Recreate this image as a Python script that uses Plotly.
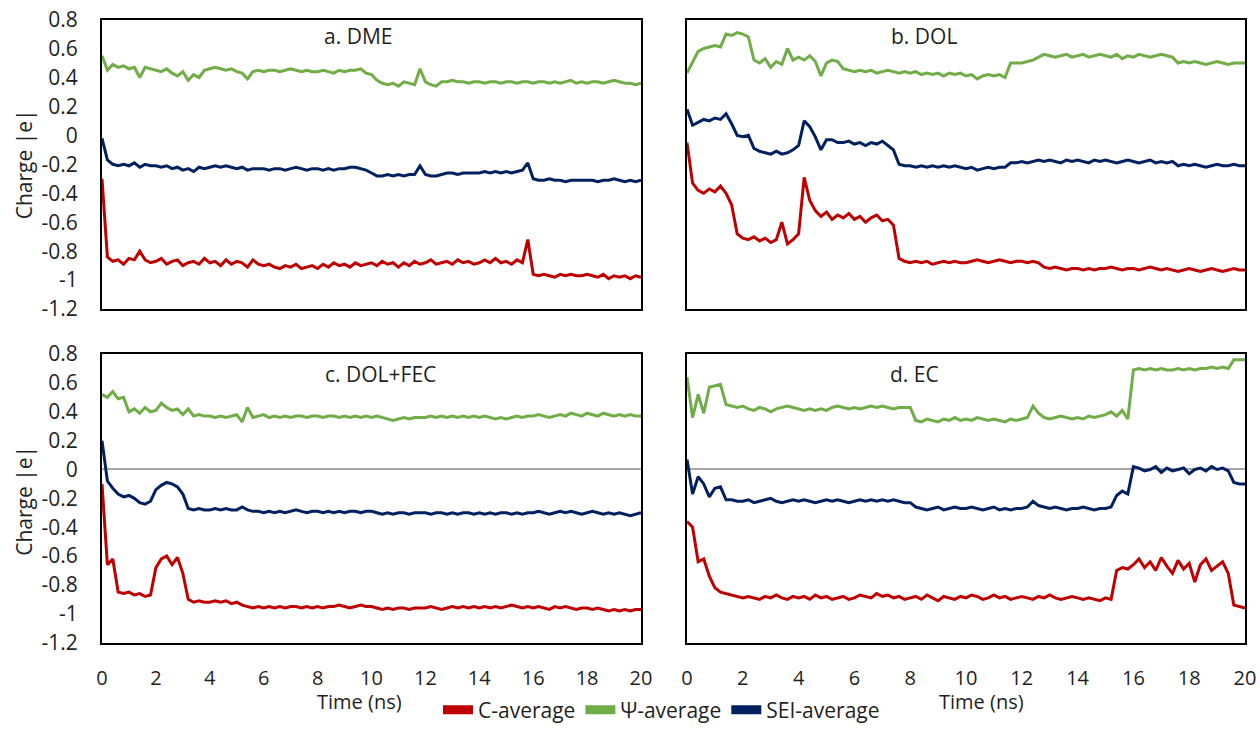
import plotly.graph_objects as go

# ---------------- data ----------------
time_ns = [round(i * 0.2, 1) for i in range(101)]
x_ticks = [0, 2, 4, 6, 8, 10, 12, 14, 16, 18, 20]
y_tick_vals = [0.8, 0.6, 0.4, 0.2, 0, -0.2, -0.4, -0.6, -0.8, -1.0, -1.2]
y_tick_text = ["0.8", "0.6", "0.4", "0.2", "0", "-0.2", "-0.4", "-0.6", "-0.8", "-1", "-1.2"]
panel_titles = ["a. DME", "b. DOL", "c. DOL+FEC", "d. EC"]
series_names = ["C-average", "\u03a8-average", "SEI-average"]
series_colors = ["#C00000", "#70AD47", "#002060"]

# a. DME
dme_c = [-0.30, -0.84, -0.87, -0.86, -0.89, -0.85, -0.86, -0.80, -0.86, -0.88,
         -0.87, -0.85, -0.89, -0.87, -0.86, -0.90, -0.88, -0.87, -0.89, -0.85,
         -0.88, -0.87, -0.90, -0.86, -0.89, -0.87, -0.88, -0.91, -0.86, -0.89,
         -0.90, -0.89, -0.91, -0.92, -0.90, -0.91, -0.89, -0.92, -0.91, -0.90,
         -0.92, -0.89, -0.91, -0.88, -0.90, -0.89, -0.91, -0.88, -0.90, -0.89,
         -0.88, -0.90, -0.87, -0.89, -0.88, -0.91, -0.88, -0.90, -0.87, -0.89,
         -0.88, -0.86, -0.89, -0.88, -0.87, -0.89, -0.86, -0.88, -0.87, -0.89,
         -0.88, -0.86, -0.88, -0.85, -0.88, -0.87, -0.89, -0.86, -0.88, -0.72,
         -0.96, -0.97, -0.96, -0.97, -0.98, -0.96, -0.97, -0.96, -0.97, -0.97,
         -0.96, -0.97, -0.98, -0.96, -0.99, -0.97, -0.98, -0.97, -0.99, -0.97,
         -0.98]
dme_psi = [0.55, 0.45, 0.49, 0.47, 0.48, 0.46, 0.47, 0.40, 0.47, 0.46,
           0.45, 0.44, 0.46, 0.43, 0.41, 0.44, 0.38, 0.42, 0.40, 0.45,
           0.46, 0.47, 0.46, 0.45, 0.46, 0.44, 0.43, 0.39, 0.44, 0.45,
           0.44, 0.45, 0.45, 0.44, 0.45, 0.46, 0.45, 0.44, 0.45, 0.44,
           0.44, 0.45, 0.44, 0.43, 0.45, 0.44, 0.45, 0.45, 0.46, 0.43,
           0.42, 0.38, 0.36, 0.35, 0.36, 0.34, 0.37, 0.36, 0.35, 0.46,
           0.37, 0.35, 0.34, 0.37, 0.37, 0.38, 0.37, 0.37, 0.36, 0.37,
           0.37, 0.36, 0.37, 0.37, 0.36, 0.37, 0.37, 0.36, 0.37, 0.37,
           0.36, 0.37, 0.37, 0.36, 0.37, 0.36, 0.37, 0.38, 0.36, 0.37,
           0.36, 0.37, 0.37, 0.36, 0.37, 0.38, 0.37, 0.36, 0.36, 0.35,
           0.36]
dme_sei = [-0.02, -0.17, -0.20, -0.21, -0.20, -0.21, -0.19, -0.22, -0.20, -0.21,
           -0.21, -0.22, -0.21, -0.23, -0.22, -0.24, -0.23, -0.25, -0.22, -0.23,
           -0.22, -0.21, -0.22, -0.21, -0.22, -0.23, -0.22, -0.24, -0.23, -0.23,
           -0.23, -0.24, -0.23, -0.23, -0.24, -0.23, -0.22, -0.23, -0.24, -0.23,
           -0.23, -0.24, -0.23, -0.24, -0.23, -0.23, -0.22, -0.22, -0.23, -0.24,
           -0.26, -0.28, -0.28, -0.27, -0.28, -0.27, -0.28, -0.27, -0.27, -0.21,
           -0.27, -0.28, -0.28, -0.27, -0.26, -0.26, -0.27, -0.26, -0.26, -0.26,
           -0.26, -0.25, -0.26, -0.25, -0.26, -0.25, -0.26, -0.25, -0.24, -0.19,
           -0.30, -0.31, -0.31, -0.30, -0.31, -0.31, -0.32, -0.31, -0.31, -0.31,
           -0.31, -0.31, -0.32, -0.31, -0.31, -0.30, -0.31, -0.32, -0.31, -0.32,
           -0.31]

# b. DOL
dol_c = [-0.05, -0.33, -0.38, -0.40, -0.37, -0.39, -0.35, -0.40, -0.48, -0.68,
         -0.71, -0.72, -0.70, -0.73, -0.71, -0.74, -0.72, -0.60, -0.75, -0.72,
         -0.68, -0.29, -0.45, -0.52, -0.56, -0.53, -0.58, -0.55, -0.57, -0.54,
         -0.58, -0.56, -0.60, -0.57, -0.55, -0.59, -0.58, -0.62, -0.85, -0.87,
         -0.88, -0.87, -0.88, -0.87, -0.89, -0.88, -0.87, -0.88, -0.87, -0.88,
         -0.88, -0.87, -0.86, -0.87, -0.88, -0.87, -0.86, -0.87, -0.88, -0.87,
         -0.87, -0.88, -0.87, -0.88, -0.91, -0.92, -0.91, -0.92, -0.93, -0.92,
         -0.92, -0.93, -0.92, -0.93, -0.92, -0.92, -0.91, -0.92, -0.93, -0.92,
         -0.92, -0.93, -0.92, -0.91, -0.92, -0.93, -0.92, -0.93, -0.94, -0.93,
         -0.92, -0.93, -0.94, -0.93, -0.92, -0.93, -0.94, -0.93, -0.92, -0.93,
         -0.93]
dol_psi = [0.43, 0.50, 0.58, 0.60, 0.61, 0.62, 0.61, 0.70, 0.69, 0.71,
           0.70, 0.68, 0.52, 0.50, 0.53, 0.47, 0.51, 0.49, 0.60, 0.52,
           0.54, 0.52, 0.55, 0.51, 0.41, 0.50, 0.52, 0.51, 0.46, 0.45,
           0.44, 0.45, 0.44, 0.45, 0.43, 0.44, 0.45, 0.44, 0.43, 0.44,
           0.43, 0.44, 0.42, 0.43, 0.42, 0.43, 0.41, 0.43, 0.42, 0.43,
           0.41, 0.42, 0.39, 0.41, 0.42, 0.41, 0.42, 0.40, 0.50, 0.50,
           0.50, 0.51, 0.52, 0.54, 0.56, 0.55, 0.54, 0.55, 0.56, 0.54,
           0.55, 0.56, 0.54, 0.55, 0.56, 0.55, 0.54, 0.56, 0.53, 0.55,
           0.54, 0.56, 0.55, 0.54, 0.55, 0.56, 0.55, 0.54, 0.50, 0.51,
           0.50, 0.51, 0.50, 0.49, 0.50, 0.51, 0.50, 0.49, 0.50, 0.50,
           0.50]
dol_sei = [0.18, 0.07, 0.09, 0.11, 0.10, 0.12, 0.11, 0.15, 0.08, 0.00,
           -0.01, 0.00, -0.09, -0.11, -0.12, -0.13, -0.11, -0.13, -0.12, -0.10,
           -0.07, 0.10, 0.06, -0.01, -0.10, -0.03, -0.03, -0.05, -0.05, -0.04,
           -0.06, -0.05, -0.07, -0.05, -0.06, -0.04, -0.07, -0.10, -0.20, -0.21,
           -0.21, -0.22, -0.21, -0.22, -0.21, -0.22, -0.21, -0.22, -0.21, -0.22,
           -0.23, -0.22, -0.24, -0.23, -0.22, -0.23, -0.22, -0.22, -0.19, -0.19,
           -0.18, -0.19, -0.18, -0.17, -0.18, -0.17, -0.18, -0.19, -0.17, -0.18,
           -0.17, -0.18, -0.19, -0.17, -0.18, -0.17, -0.18, -0.19, -0.18, -0.17,
           -0.18, -0.19, -0.18, -0.17, -0.19, -0.18, -0.19, -0.18, -0.21, -0.20,
           -0.21, -0.20, -0.21, -0.22, -0.21, -0.20, -0.21, -0.21, -0.20, -0.21,
           -0.21]

# c. DOL+FEC
fec_c = [-0.10, -0.66, -0.62, -0.85, -0.86, -0.85, -0.87, -0.86, -0.88, -0.87,
         -0.68, -0.62, -0.60, -0.66, -0.61, -0.72, -0.90, -0.92, -0.91, -0.92,
         -0.92, -0.91, -0.92, -0.91, -0.93, -0.92, -0.94, -0.95, -0.96, -0.95,
         -0.96, -0.95, -0.96, -0.95, -0.96, -0.95, -0.95, -0.96, -0.95, -0.96,
         -0.95, -0.96, -0.95, -0.95, -0.94, -0.95, -0.96, -0.95, -0.94, -0.95,
         -0.95, -0.96, -0.97, -0.96, -0.97, -0.96, -0.96, -0.97, -0.96, -0.96,
         -0.96, -0.95, -0.96, -0.97, -0.96, -0.95, -0.96, -0.95, -0.96, -0.95,
         -0.96, -0.95, -0.96, -0.95, -0.96, -0.95, -0.94, -0.95, -0.96, -0.95,
         -0.96, -0.95, -0.96, -0.97, -0.95, -0.96, -0.95, -0.96, -0.97, -0.96,
         -0.96, -0.97, -0.96, -0.97, -0.98, -0.97, -0.98, -0.97, -0.98, -0.97,
         -0.97]
fec_psi = [0.52, 0.50, 0.54, 0.49, 0.50, 0.40, 0.42, 0.39, 0.43, 0.40,
           0.41, 0.46, 0.43, 0.41, 0.42, 0.38, 0.42, 0.37, 0.38, 0.37,
           0.37, 0.36, 0.37, 0.36, 0.37, 0.38, 0.33, 0.43, 0.36, 0.37,
           0.38, 0.36, 0.37, 0.36, 0.37, 0.36, 0.37, 0.37, 0.36, 0.37,
           0.37, 0.36, 0.37, 0.37, 0.36, 0.37, 0.36, 0.37, 0.36, 0.37,
           0.36, 0.37, 0.36, 0.35, 0.34, 0.35, 0.36, 0.35, 0.36, 0.36,
           0.36, 0.37, 0.36, 0.37, 0.36, 0.37, 0.36, 0.37, 0.36, 0.37,
           0.36, 0.37, 0.36, 0.35, 0.36, 0.35, 0.36, 0.37, 0.36, 0.37,
           0.37, 0.38, 0.37, 0.36, 0.37, 0.38, 0.37, 0.39, 0.38, 0.37,
           0.39, 0.38, 0.37, 0.39, 0.38, 0.37, 0.38, 0.37, 0.38, 0.37,
           0.37]
fec_sei = [0.20, -0.08, -0.13, -0.17, -0.19, -0.18, -0.20, -0.23, -0.24, -0.22,
           -0.14, -0.11, -0.09, -0.10, -0.12, -0.17, -0.27, -0.28, -0.27, -0.28,
           -0.28, -0.27, -0.28, -0.27, -0.28, -0.28, -0.26, -0.28, -0.29, -0.29,
           -0.30, -0.29, -0.30, -0.29, -0.30, -0.29, -0.28, -0.29, -0.30, -0.29,
           -0.29, -0.30, -0.29, -0.30, -0.29, -0.30, -0.29, -0.29, -0.30, -0.29,
           -0.29, -0.30, -0.31, -0.30, -0.31, -0.30, -0.30, -0.31, -0.30, -0.30,
           -0.30, -0.31, -0.30, -0.30, -0.31, -0.30, -0.31, -0.30, -0.30, -0.31,
           -0.30, -0.31, -0.30, -0.31, -0.30, -0.30, -0.31, -0.30, -0.31, -0.30,
           -0.30, -0.29, -0.30, -0.31, -0.30, -0.29, -0.30, -0.29, -0.30, -0.31,
           -0.30, -0.29, -0.30, -0.31, -0.30, -0.31, -0.30, -0.31, -0.32, -0.31,
           -0.30]

# d. EC
ec_c = [-0.36, -0.40, -0.64, -0.62, -0.74, -0.82, -0.85, -0.86, -0.87, -0.88,
        -0.89, -0.88, -0.89, -0.90, -0.88, -0.89, -0.87, -0.89, -0.90, -0.88,
        -0.89, -0.88, -0.90, -0.87, -0.89, -0.88, -0.90, -0.89, -0.88, -0.90,
        -0.89, -0.87, -0.88, -0.89, -0.86, -0.88, -0.87, -0.89, -0.88, -0.90,
        -0.89, -0.88, -0.90, -0.87, -0.89, -0.91, -0.88, -0.89, -0.90, -0.88,
        -0.89, -0.87, -0.88, -0.90, -0.89, -0.87, -0.89, -0.88, -0.90, -0.89,
        -0.88, -0.89, -0.90, -0.88, -0.89, -0.87, -0.89, -0.90, -0.89, -0.88,
        -0.89, -0.90, -0.89, -0.90, -0.91, -0.89, -0.90, -0.70, -0.68, -0.69,
        -0.66, -0.62, -0.68, -0.64, -0.70, -0.61, -0.67, -0.72, -0.63, -0.69,
        -0.65, -0.78, -0.66, -0.62, -0.70, -0.67, -0.64, -0.72, -0.94, -0.95,
        -0.96]
ec_psi = [0.64, 0.36, 0.52, 0.39, 0.57, 0.58, 0.59, 0.45, 0.44, 0.43,
          0.44, 0.42, 0.41, 0.43, 0.42, 0.40, 0.42, 0.43, 0.44, 0.43,
          0.42, 0.41, 0.42, 0.41, 0.42, 0.41, 0.43, 0.44, 0.43, 0.42,
          0.43, 0.42, 0.43, 0.44, 0.43, 0.44, 0.43, 0.42, 0.43, 0.43,
          0.43, 0.34, 0.33, 0.35, 0.34, 0.33, 0.35, 0.34, 0.36, 0.34,
          0.35, 0.34, 0.36, 0.35, 0.34, 0.35, 0.34, 0.33, 0.35, 0.34,
          0.35, 0.36, 0.44, 0.39, 0.36, 0.35, 0.36, 0.37, 0.36, 0.35,
          0.36, 0.35, 0.37, 0.36, 0.37, 0.38, 0.40, 0.37, 0.41, 0.35,
          0.69, 0.70, 0.69, 0.70, 0.69, 0.70, 0.69, 0.69, 0.70, 0.69,
          0.70, 0.69, 0.70, 0.70, 0.71, 0.70, 0.71, 0.70, 0.76, 0.76,
          0.76]
ec_sei = [0.07, -0.17, -0.05, -0.10, -0.19, -0.13, -0.12, -0.21, -0.21, -0.22,
          -0.22, -0.21, -0.23, -0.22, -0.21, -0.20, -0.22, -0.23, -0.22, -0.21,
          -0.22, -0.21, -0.22, -0.23, -0.22, -0.21, -0.22, -0.21, -0.22, -0.23,
          -0.22, -0.21, -0.22, -0.21, -0.22, -0.21, -0.22, -0.21, -0.22, -0.23,
          -0.23, -0.26, -0.27, -0.28, -0.27, -0.26, -0.28, -0.27, -0.26, -0.27,
          -0.27, -0.26, -0.27, -0.28, -0.27, -0.26, -0.28, -0.27, -0.28, -0.27,
          -0.27, -0.26, -0.22, -0.25, -0.26, -0.27, -0.26, -0.27, -0.28, -0.27,
          -0.27, -0.26, -0.27, -0.28, -0.27, -0.27, -0.26, -0.18, -0.15, -0.17,
          0.02, 0.01, -0.01, 0.00, 0.02, -0.02, 0.01, -0.01, 0.00, 0.01,
          -0.03, 0.00, 0.01, -0.01, 0.02, 0.00, 0.01, -0.01, -0.09, -0.10,
          -0.10]

panels = [
    (dme_c, dme_psi, dme_sei),
    (dol_c, dol_psi, dol_sei),
    (fec_c, fec_psi, fec_sei),
    (ec_c, ec_psi, ec_sei),
]

# ---------------- figure ----------------
W, H = 1260, 731
FONT = "Open Sans"
TXT = "#1f1f1f"

fig = go.Figure()
axis_ids = ["", "2", "3", "4"]
for p, series in enumerate(panels):
    for s, vals in enumerate(series):
        fig.add_trace(go.Scatter(
            x=time_ns, y=vals, mode="lines",
            line=dict(color=series_colors[s], width=3),
            xaxis="x" + axis_ids[p], yaxis="y" + axis_ids[p],
            showlegend=False, hoverinfo="skip"))

# legend entries (thick samples)
for s in range(3):
    fig.add_trace(go.Scatter(
        x=[None], y=[None], mode="lines", name=series_names[s],
        line=dict(color=series_colors[s], width=9)))

xdom = [[102 / W, 641 / W], [687 / W, 1245 / W]]
ydom = [[1 - 316 / H, 1 - 20 / H], [1 - 657 / H, 1 - 362 / H]]

layout = dict(
    width=W, height=H,
    margin=dict(l=0, r=0, t=0, b=0),
    paper_bgcolor="white", plot_bgcolor="white",
    font=dict(family=FONT, size=21, color=TXT),
    showlegend=True,
    legend=dict(orientation="h", x=0.525, xanchor="center",
                y=1 - 726 / H, yanchor="middle",
                font=dict(size=21, family=FONT, color=TXT),
                itemwidth=30, tracegroupgap=0, bgcolor="rgba(0,0,0,0)"),
)

for p in range(4):
    row, col = divmod(p, 2)
    xa = "xaxis" + axis_ids[p]
    ya = "yaxis" + axis_ids[p]
    layout[xa] = dict(
        domain=xdom[col], anchor="y" + axis_ids[p], range=[0, 20],
        tickvals=x_ticks, ticktext=[str(v) for v in x_ticks],
        showticklabels=(row == 1), ticks="", ticklabelstandoff=16,
        showgrid=False, zeroline=False,
        showline=True, mirror=True, linecolor="black", linewidth=2,
        tickfont=dict(family=FONT, size=20, color=TXT), automargin=False)
    layout[ya] = dict(
        domain=ydom[row], anchor="x" + axis_ids[p], range=[-1.2, 0.8],
        tickvals=y_tick_vals, ticktext=y_tick_text,
        showticklabels=(col == 0), ticks="", ticklabelstandoff=18,
        showgrid=False,
        zeroline=(row == 1), zerolinecolor="#A6A6A6", zerolinewidth=2,
        showline=True, mirror=True, linecolor="black", linewidth=2,
        tickfont=dict(family=FONT, size=21, color=TXT), automargin=False)

annotations = []
title_pos = [(322, 37), (889, 37), (323, 382), (888, 382)]
for p, (tx, ty) in enumerate(title_pos):
    annotations.append(dict(text=panel_titles[p], x=tx / W, y=1 - ty / H,
                            xref="paper", yref="paper", xanchor="left",
                            yanchor="middle", showarrow=False,
                            font=dict(family=FONT, size=21, color=TXT)))
for cy in (168, 512):
    annotations.append(dict(text="Charge |e|", x=24 / W, y=1 - cy / H,
                            xref="paper", yref="paper", xanchor="center",
                            yanchor="middle", textangle=-90, showarrow=False,
                            font=dict(family=FONT, size=21, color=TXT)))
for cx in (359, 981):
    annotations.append(dict(text="Time (ns)", x=cx / W, y=1 - 717 / H,
                            xref="paper", yref="paper", xanchor="center",
                            yanchor="middle", showarrow=False,
                            font=dict(family=FONT, size=20, color=TXT)))
layout["annotations"] = annotations

fig.update_layout(**layout)
fig.write_html("out.html")
